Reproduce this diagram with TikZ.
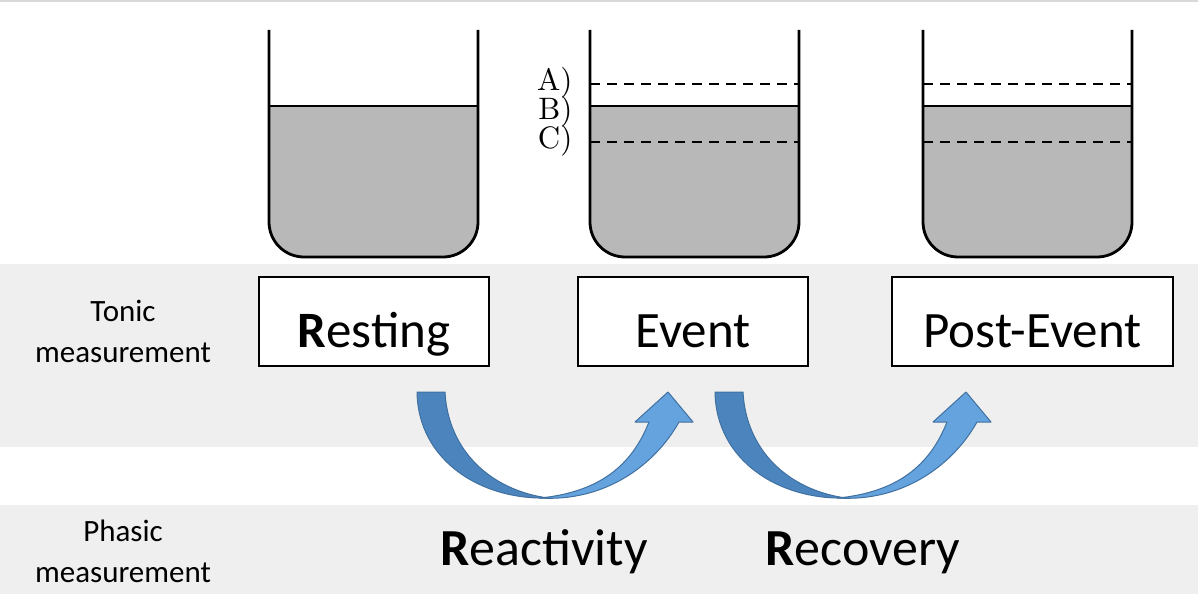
\documentclass[tikz,border=0pt]{standalone}
\usepackage{fontspec}
\newfontfamily\calfont{Carlito}
\definecolor{bandgray}{RGB}{239,239,239}
\definecolor{liquidgray}{RGB}{184,184,184}
\definecolor{arrowdark}{RGB}{76,133,190}
\definecolor{arrowlight}{RGB}{101,163,222}
\definecolor{arrowline}{RGB}{64,112,160}
\begin{document}
\begin{tikzpicture}[x=1pt,y=-1pt,
  beaker/.style={line width=2.8pt, line join=round, rounded corners=35pt},
  level/.style={line width=2.2pt},
  dashline/.style={line width=2.2pt, dash pattern=on 10pt off 7pt},
  phase/.style={draw=black, line width=2pt, fill=white, inner sep=0pt,
    text height=70pt, text depth=19pt, font=\calfont\fontsize{51}{60}\selectfont},
  big/.style={font=\calfont\fontsize{52}{60}\selectfont, anchor=base},
  side/.style={font=\calfont\fontsize{31}{41}\selectfont, align=center},
  abc/.style={font=\fontsize{10}{12}\selectfont, scale=3.1, inner sep=0pt,
    text height=7pt, text depth=2pt, anchor=base east},
  shaft/.style={draw=arrowline, line width=1pt, line join=round}]
\useasboundingbox (0,0) rectangle (1198,594);
\fill[white] (0,0) rectangle (1198,594);
\draw[gray!30, line width=2pt] (0,1) -- (1198,1);
% grey bands
\fill[bandgray] (0,264) rectangle (1198,447);
\fill[bandgray] (0,505) rectangle (1198,594);
% beakers
\foreach \bx in {269,590,923} {
  \fill[liquidgray] (\bx,106) [rounded corners=35pt] -- (\bx,257) -- (\bx+209,257)
    [sharp corners] -- (\bx+209,106) -- cycle;
  \draw[level] (\bx,106) -- (\bx+209,106);
  \draw[beaker] (\bx,30) -- (\bx,257) -- (\bx+209,257) -- (\bx+209,30);
}
\foreach \bx in {590,923} {
  \draw[dashline] (\bx,84) -- (\bx+209,84);
  \draw[dashline] (\bx,142) -- (\bx+209,142);
}
\node[abc] (la) at (573,90) {A)};
\node[abc] (lb) at (573,119) {B)};
\node[abc] (lc) at (573,148) {C)};
% row labels
\node[side] (tonic) at (123,331) {Tonic\\measurement};
\node[side] (phasic) at (123,551) {Phasic\\measurement};
% phases
\node[phase, minimum width=230pt] (rest) at (374,321.5) {\textbf{R}esting};
\node[phase, minimum width=230pt] (event) at (693,321.5) {Event};
\node[phase, minimum width=281pt] (post) at (1032.5,321.5) {Post-Event};
% curved arrows
\foreach \s in {0,298} {
  \begin{scope}[xshift=\s]
    \filldraw[shaft, fill=arrowdark] (417,392) -- (445,392)
      .. controls (448,450) and (490,490) .. (548,498)
      .. controls (480,500) and (418,460) .. (417,392) -- cycle;
    \filldraw[shaft, fill=arrowlight] (649,422)
      .. controls (632,465) and (600,492) .. (540,498)
      .. controls (605,502) and (655,465) .. (679,422)
      -- (693,422) -- (668,392) -- (635,422) -- cycle;
  \end{scope}
}
\node[big] (react) at (544,565) {\textbf{R}eactivity};
\node[big] (recov) at (863,565) {\textbf{R}ecovery};
\end{tikzpicture}
\end{document}
